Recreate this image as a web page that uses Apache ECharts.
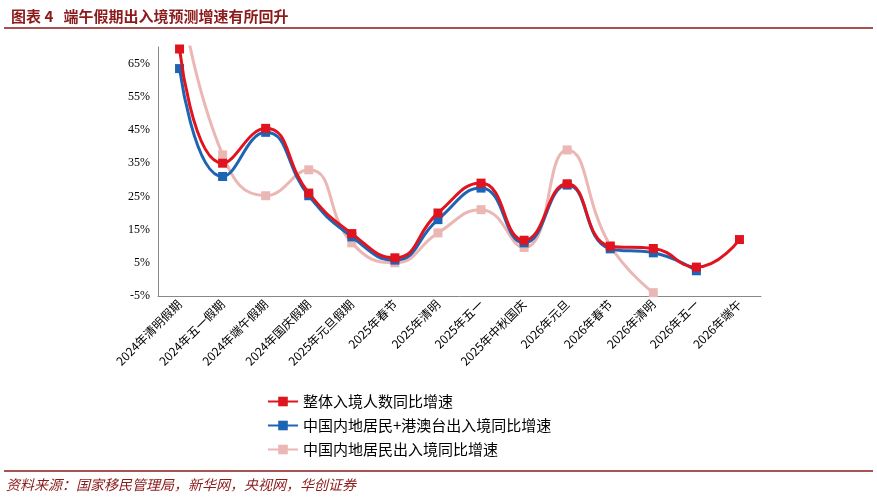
<!DOCTYPE html><html><head><meta charset="utf-8">
<script src="https://cdn.jsdelivr.net/npm/echarts@6/dist/echarts.min.js"></script>
<style>body{margin:0}#c{width:877px;height:503px}</style></head><body><div id="c"></div><script>
const categories=['2024年清明假期','2024年五一假期','2024年端午假期','2024年国庆假期','2025年元旦假期','2025年春节','2025年清明','2025年五一','2025年中秋国庆','2026年元旦','2026年春节','2026年清明','2026年五一','2026年端午'];
const total=[69.4,35,45.5,26,13.8,6.5,20,29,11.8,28.8,10,9.3,3.7,12];
const mainlandHKMT=[63.5,31,44.3,25.2,12.8,5.8,18,27.5,11,28.4,9.2,8,2.6,null];
const mainland=[88,37.5,25.2,33,11,5,14,21,9.6,39,10.2,-4,null,null];
const yTicks=[-5,5,15,25,35,45,55,65];
const chart=echarts.init(document.getElementById('c'));
const font='"Noto Sans CJK SC"';
function s(name,data,color,z){return {name,type:'line',data,smooth:true,symbol:'rect',symbolSize:9,z,
 lineStyle:{color,width:3},itemStyle:{color},connectNulls:false,clip:true};}
chart.setOption({
 animation:false,
 textStyle:{fontFamily:font},
 title:{text:'图表 4   端午假期出入境预测增速有所回升',left:6,top:4,textStyle:{fontSize:15,fontWeight:'bold',color:'#8B1A1A',fontFamily:font}},
 graphic:[
  {type:'line',shape:{x1:4,y1:28,x2:873,y2:28},style:{stroke:'#8B1A1A',lineWidth:1.5}},
  {type:'line',shape:{x1:4,y1:471,x2:873,y2:471},style:{stroke:'#8B1A1A',lineWidth:1.5}},
  {type:'text',left:6,top:478,style:{text:'资料来源：国家移民管理局，新华网，央视网，华创证券',fontSize:14,fontStyle:'italic',fill:'#8B1A1A',fontFamily:font}}
 ],
 legend:{orient:'vertical',left:262,top:389,itemGap:9,itemWidth:30,itemHeight:12,textStyle:{fontSize:15,color:'#000'},
  data:['整体入境人数同比增速','中国内地居民+港澳台出入境同比增速','中国内地居民出入境同比增速']},
 grid:{left:158,right:116,top:47,bottom:207},
 xAxis:{type:'category',data:categories,boundaryGap:true,
  axisLine:{onZero:false,lineStyle:{color:'#888'}},axisTick:{show:false},
  axisLabel:{rotate:45,fontSize:12,color:'#000',interval:0,margin:6}},
 yAxis:{type:'value',min:-5,max:70,interval:10,splitLine:{show:false},
  axisLine:{show:true,lineStyle:{color:'#888'}},axisTick:{show:false},
  axisLabel:{showMaxLabel:false,formatter:v=>v+'%',fontSize:12,color:'#000',fontFamily:'"Liberation Serif"'}},
 series:[s('中国内地居民出入境同比增速',mainland,'#EBB7B5',1),
  s('中国内地居民+港澳台出入境同比增速',mainlandHKMT,'#1E64B4',2),
  s('整体入境人数同比增速',total,'#E0141E',3)]
});
</script></body></html>
